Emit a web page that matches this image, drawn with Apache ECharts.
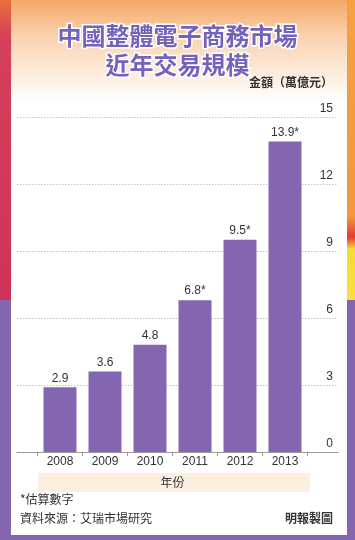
<!DOCTYPE html>
<html lang="zh-Hant">
<head>
    <meta charset="UTF-8">
    <title>中國整體電子商務市場近年交易規模</title>
    <style>
        body {
            margin: 0;
            background-color: #fff;
        }

        #chart {
            width: 355px;
            height: 540px;
        }
    </style>
</head>
<body>

    <div id="chart"></div>

    <script src="https://cdn.jsdelivr.net/npm/echarts@6/dist/echarts.min.js"></script>
    <script>

        // 年份
        const years = ['2008', '2009', '2010', '2011', '2012', '2013'];
        // 交易規模（萬億元）
        const values = [2.9, 3.6, 4.8, 6.8, 9.5, 13.9];
        // 估算數字
        const estimated = [false, false, false, true, true, true];
        // 縱軸刻度
        const yTicks = [0, 3, 6, 9, 12, 15];

        const font = '"Liberation Sans", "Noto Sans CJK TC", sans-serif';
        const purple = '#8466b0';

        const chart = echarts.init(document.getElementById('chart'));

        const option = {
            animation: false,
            textStyle: { fontFamily: font },
            title: {
                text: '中國整體電子商務市場\n近年交易規模',
                left: 'center',
                top: 16,
                textStyle: {
                    fontFamily: '"Noto Sans CJK TC", sans-serif',
                    fontSize: 24,
                    fontWeight: 'bold',
                    lineHeight: 29,
                    color: '#7463bb',
                    textBorderColor: '#fff',
                    textBorderWidth: 3,
                },
            },
            grid: [
                // 格線用
                { left: 17, right: 17, top: 117, bottom: 88 },
                // 柱狀圖
                { left: 37.5, right: 47.5, top: 117, bottom: 88 },
            ],
            xAxis: [
                {
                    gridIndex: 0,
                    type: 'value',
                    min: 0,
                    max: 1,
                    axisLine: { show: true, lineStyle: { color: '#9a9a9a', width: 1 } },
                    axisTick: { show: false },
                    axisLabel: { show: false },
                    splitLine: { show: false },
                },
                {
                    gridIndex: 1,
                    type: 'category',
                    data: years,
                    axisLine: { show: false },
                    axisTick: {
                        show: true,
                        length: 4,
                        lineStyle: { color: '#9a9a9a' },
                    },
                    axisLabel: {
                        color: '#333',
                        fontSize: 12,
                        margin: 4,
                    },
                    name: '年份',
                    nameLocation: 'middle',
                    nameGap: 24,
                    nameTextStyle: {
                        fontFamily: '"Noto Sans CJK TC", sans-serif',
                        color: '#333',
                        fontSize: 12,
                        verticalAlign: 'top',
                    },
                },
            ],
            yAxis: [
                {
                    gridIndex: 0,
                    type: 'value',
                    position: 'right',
                    min: yTicks[0],
                    max: yTicks[yTicks.length - 1],
                    interval: yTicks[1] - yTicks[0],
                    axisLine: { show: false },
                    axisTick: { show: false },
                    axisLabel: {
                        inside: true,
                        margin: 5,
                        color: '#333',
                        fontSize: 12,
                        verticalAlign: 'bottom',
                        padding: [0, 0, 2, 0],
                    },
                    splitLine: {
                        lineStyle: {
                            type: [1.5, 1.5],
                            width: 1,
                            color: '#c4c4c4',
                        },
                    },
                },
                {
                    gridIndex: 1,
                    type: 'value',
                    min: yTicks[0],
                    max: yTicks[yTicks.length - 1],
                    show: false,
                },
            ],
            series: [
                {
                    type: 'bar',
                    xAxisIndex: 1,
                    yAxisIndex: 1,
                    data: values,
                    barWidth: 33,
                    itemStyle: { color: purple },
                    label: {
                        show: true,
                        position: 'top',
                        distance: 3,
                        color: '#333',
                        fontSize: 12,
                        formatter: p => p.value + (estimated[p.dataIndex] ? '*' : ''),
                    },
                },
            ],
            graphic: [
                // 外框
                {
                    type: 'rect', z: -100, silent: true,
                    shape: { x: 0, y: 0, width: 11, height: 300 },
                    style: {
                        fill: new echarts.graphic.LinearGradient(0, 0, 0, 1, [
                            { offset: 0, color: '#e8703c' },
                            { offset: 0.12, color: '#d5405a' },
                            { offset: 1, color: '#cf325a' },
                        ]),
                    },
                },
                {
                    type: 'rect', z: -100, silent: true,
                    shape: { x: 347, y: 0, width: 8, height: 300 },
                    style: {
                        fill: new echarts.graphic.LinearGradient(0, 0, 0, 1, [
                            { offset: 0, color: '#f6a044' },
                            { offset: 0.72, color: '#f4983a' },
                            { offset: 0.79, color: '#e63a30' },
                            { offset: 0.83, color: '#f8da34' },
                            { offset: 1, color: '#f8e040' },
                        ]),
                    },
                },
                {
                    type: 'rect', z: -100, silent: true,
                    shape: { x: 0, y: 300, width: 11, height: 240 },
                    style: { fill: purple },
                },
                {
                    type: 'rect', z: -100, silent: true,
                    shape: { x: 347, y: 300, width: 8, height: 240 },
                    style: { fill: purple },
                },
                {
                    type: 'rect', z: -100, silent: true,
                    shape: { x: 0, y: 535, width: 355, height: 5 },
                    style: { fill: purple },
                },
                // 內框底色
                {
                    type: 'rect', z: -100, silent: true,
                    shape: { x: 11, y: 0, width: 336, height: 535 },
                    style: {
                        fill: new echarts.graphic.LinearGradient(0, 0, 0, 1, [
                            { offset: 0, color: '#f4a866' },
                            { offset: 0.07, color: '#fad3b0' },
                            { offset: 0.19, color: '#ffffff' },
                            { offset: 1, color: '#ffffff' },
                        ]),
                    },
                },
                // 年份底色
                {
                    type: 'rect', z: -50, silent: true,
                    shape: { x: 38, y: 473, width: 272, height: 19 },
                    style: { fill: '#fcefdf' },
                },
                // 單位
                {
                    type: 'text', right: 22, top: 76,
                    style: {
                        text: '金額（萬億元）',
                        font: 'bold 12px "Noto Sans CJK TC", sans-serif',
                        fill: '#333',
                    },
                },
                // 註
                {
                    type: 'text', left: 20, top: 493,
                    style: {
                        text: '*估算數字',
                        font: '12px "Noto Sans CJK TC", sans-serif',
                        fill: '#333',
                    },
                },
                {
                    type: 'text', left: 20, top: 512,
                    style: {
                        text: '資料來源：艾瑞市場研究',
                        font: '12px "Noto Sans CJK TC", sans-serif',
                        fill: '#333',
                    },
                },
                {
                    type: 'text', right: 22, top: 512,
                    style: {
                        text: '明報製圖',
                        font: 'bold 12px "Noto Sans CJK TC", sans-serif',
                        fill: '#333',
                    },
                },
            ],
        };

        chart.setOption(option);

    </script>
</body>
</html>
